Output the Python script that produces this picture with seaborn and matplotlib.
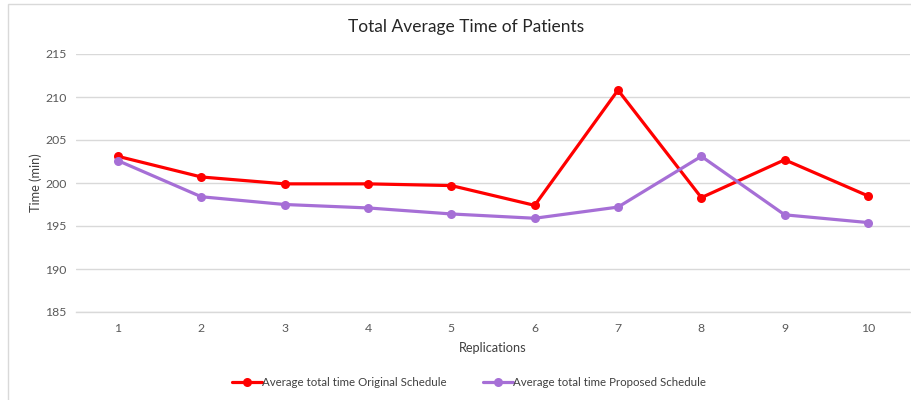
import matplotlib
matplotlib.use("Agg")
import matplotlib.pyplot as plt
from matplotlib.patches import Rectangle
import seaborn as sns
import pandas as pd

replications = [1, 2, 3, 4, 5, 6, 7, 8, 9, 10]
original_schedule = [203.1, 200.7, 199.9, 199.9, 199.7, 197.4, 210.8, 198.3, 202.7, 198.5]
proposed_schedule = [202.6, 198.4, 197.5, 197.1, 196.4, 195.9, 197.2, 203.1, 196.3, 195.4]
series_names = ["Average total time Original Schedule",
                "Average total time Proposed Schedule"]
y_ticks = [185, 190, 195, 200, 205, 210, 215]

df = pd.concat([
    pd.DataFrame({"Replication": replications, "Time": original_schedule,
                  "Series": series_names[0]}),
    pd.DataFrame({"Replication": replications, "Time": proposed_schedule,
                  "Series": series_names[1]}),
])

sns.set_theme(style="white")
plt.rcParams["font.family"] = ["Lato", "DejaVu Sans"]

fig = plt.figure(figsize=(9.12, 4.0), dpi=100)
ax = fig.add_axes([76.3 / 912, 1 - 312 / 400, (909.7 - 76.3) / 912, (312 - 54) / 400])

palette = {series_names[0]: "#FF0000", series_names[1]: "#A66FD6"}
sns.lineplot(data=df, x="Replication", y="Time", hue="Series", palette=palette,
             marker="o", markersize=6.5, markeredgewidth=0, linewidth=2.3,
             ax=ax, zorder=3)

ax.set_xlim(0.5, 10.5)
ax.set_ylim(185, 215)
ax.set_yticks(y_ticks)
ax.set_xticks(replications)
ax.set_yticklabels([str(v) for v in y_ticks])
ax.set_xticklabels([str(v) for v in replications])
ax.grid(axis="y", color="#d9d9d9", linewidth=1.0)
ax.grid(axis="x", visible=False)
ax.set_axisbelow(True)
for side in ["top", "right", "left"]:
    ax.spines[side].set_visible(False)
ax.spines["bottom"].set_color("#d9d9d9")
ax.spines["bottom"].set_linewidth(1.0)
ax.tick_params(axis="both", length=0, labelsize=8.8, colors="#595959")
ax.tick_params(axis="y", pad=7)
ax.tick_params(axis="x", pad=8)

ax.set_xlabel("Replications", fontsize=9.2, color="#404040", labelpad=6)
ax.set_ylabel("Time (min)", fontsize=9.2, color="#404040", labelpad=2)

fig.text(466 / 912, 1 - 27 / 400, "Total Average Time of Patients",
         fontsize=12.5, color="#262626", ha="center", va="center")

handles, labels = ax.get_legend_handles_labels()
ax.legend(handles, labels, loc="center", bbox_to_anchor=(469 / 912, 1 - 383 / 400),
          bbox_transform=fig.transFigure, ncol=2, frameon=False, fontsize=8.3,
          handlelength=2.6, handletextpad=0.05, columnspacing=3.1,
          labelcolor="#404040")

# light frame around the whole chart area
fig.patches.append(Rectangle((8.5 / 912, -0.1), 1.2, 1 - 3.5 / 400 + 0.1,
                             transform=fig.transFigure, fill=False,
                             edgecolor="#d9d9d9", linewidth=1.0))

fig.savefig("out.png", dpi=100)
